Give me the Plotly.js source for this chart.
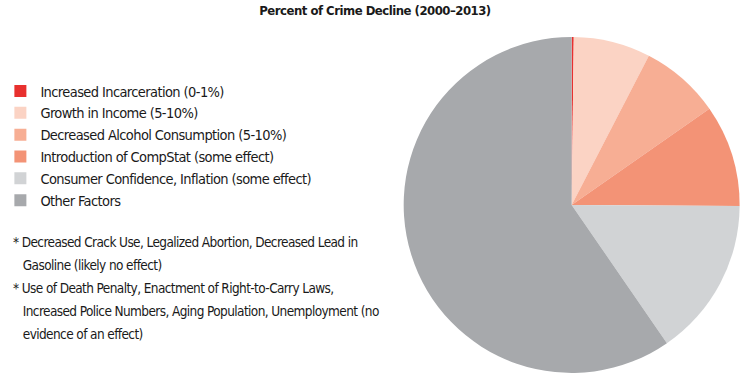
<!DOCTYPE html>
<html>
<head>
<meta charset="utf-8">
<script src="https://cdn.plot.ly/plotly-3.0.1.min.js"></script>
<style>
html,body{margin:0;padding:0;background:#fff;}
#chart{width:750px;height:375px;}
#chart .legendtext{letter-spacing:-0.6px;}
#chart .annotation-text{letter-spacing:-0.6px;}
#chart .gtitle{letter-spacing:-0.5px;}
</style>
</head>
<body>
<div id="chart"></div>
<script>
var categories = [
  "Increased Incarceration (0-1%)",
  "Growth in Income (5-10%)",
  "Decreased Alcohol Consumption (5-10%)",
  "Introduction of CompStat (some effect)",
  "Consumer Confidence, Inflation (some effect)",
  "Other Factors"
];
var shares = [0.2, 7.4, 7.7, 9.8, 15.3, 59.6];
var colors = ["#e8302e", "#fbd3c4", "#f7ae94", "#f39376", "#d1d3d5", "#a7a9ac"];
var footnotes = [
  "* Decreased Crack Use, Legalized Abortion, Decreased Lead in",
  "   Gasoline (likely no effect)",
  "* Use of Death Penalty, Enactment of Right-to-Carry Laws,",
  "   Increased Police Numbers, Aging Population, Unemployment (no",
  "   evidence of an effect)"
];
var titleText = "Percent of Crime Decline (2000–2013)";

var font = "'DejaVu Sans Condensed', 'DejaVu Sans', Arial, sans-serif";
var ink = "#1a1a1a";

var trace = {
  type: "pie",
  labels: categories,
  values: shares,
  sort: false,
  direction: "clockwise",
  rotation: 0,
  textinfo: "none",
  hoverinfo: "label+percent",
  marker: {colors: colors, line: {width: 0}},
  domain: {x: [0.532, 0.986], y: [0.0, 0.907]}
};

var H = 375;
var annotations = footnotes.map(function (line, i) {
  return {
    xref: "paper", yref: "paper", x: 0.0015, y: 1 - (242 + i * 23) / H,
    xanchor: "left", yanchor: "middle", align: "left", showarrow: false,
    text: line.replace(/^ {3}/, "&nbsp;&nbsp;&nbsp;"),
    font: {family: font, size: 13.5, color: ink}
  };
});

var layout = {
  width: 750, height: H,
  margin: {l: 0, r: 0, t: 0, b: 0},
  paper_bgcolor: "#fff",
  font: {family: font, color: ink, size: 14},
  title: {text: "<b>" + titleText + "</b>", x: 0.5, xanchor: "center", y: 0.985, yanchor: "top",
          font: {family: font, size: 13, color: ink}},
  showlegend: true,
  legend: {x: -0.013, xanchor: "left", y: 0.8, yanchor: "top", bgcolor: "rgba(0,0,0,0)",
           font: {family: font, size: 14.5, color: ink}, itemclick: false},
  annotations: annotations
};

Plotly.newPlot("chart", [trace], layout, {displayModeBar: false, staticPlot: true});
</script>
</body>
</html>
